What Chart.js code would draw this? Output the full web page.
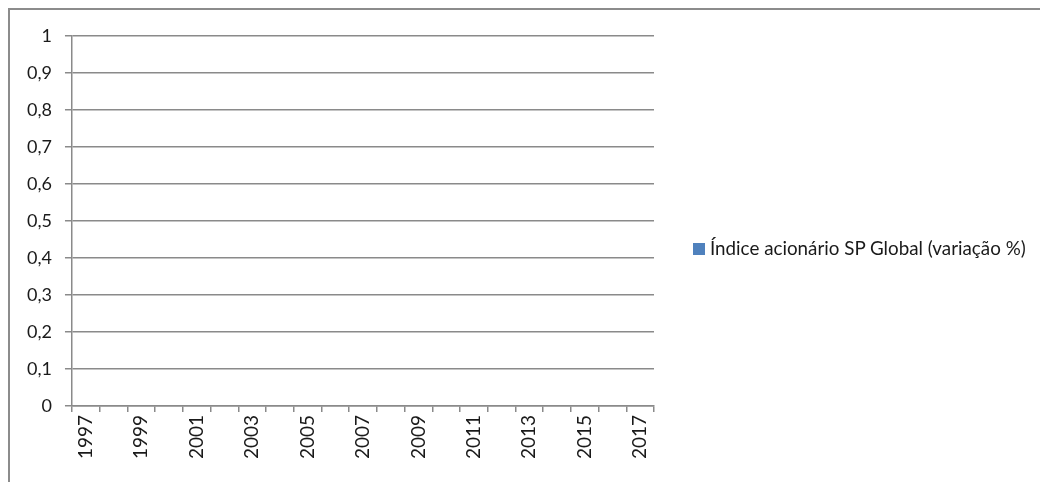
<!DOCTYPE html>
<html>
<head>
<meta charset="utf-8">
<script src="https://cdn.jsdelivr.net/npm/chart.js@4.4.1/dist/chart.umd.min.js"></script>
<style>
  html, body { margin: 0; padding: 0; background: #fff; }
  #frame {
    position: absolute; left: 8px; top: 8px; width: 1040px; height: 482px;
    border-top: 2px solid #8c8c8c; border-left: 2px solid #8c8c8c;
  }
  #wrap { position: absolute; left: 0; top: 0; width: 1040px; height: 482px; }
  #legend {
    position: absolute; left: 693px; top: 236px;
    font: 18.8px Lato, 'Open Sans', sans-serif; color: #1a1a1a; white-space: nowrap;
  }
  #legend .box {
    display: inline-block; width: 12px; height: 12px; margin-right: 5px;
    vertical-align: 0px;
  }
</style>
</head>
<body>
<div id="frame"></div>
<div id="wrap"><canvas id="chart"></canvas></div>
<div id="legend"></div>
<script>
// Excel chart with an empty series: only axes and legend are drawn
const years = ['1997', '1998', '1999', '2000', '2001', '2002', '2003', '2004', '2005', '2006', '2007',
  '2008', '2009', '2010', '2011', '2012', '2013', '2014', '2015', '2016', '2017'];
const indexValues = years.map(() => null); // no values plotted in the reference
const yMin = 0;
const yMax = 1;
const yStep = 0.1;

Chart.defaults.font.family = "Lato, 'Open Sans', sans-serif";
Chart.defaults.font.size = 18;
Chart.defaults.color = '#1a1a1a';

const gridGray = '#8a8a8a';

const chart = new Chart(document.getElementById('chart'), {
  type: 'bar',
  data: {
    labels: years,
    datasets: [{
      label: 'Índice acionário SP Global (variação %)',
      data: indexValues,
      backgroundColor: '#4f81bd',
      borderWidth: 0
    }]
  },
  options: {
    responsive: true,
    maintainAspectRatio: false,
    animation: false,
    layout: {
      padding: { left: 14, right: 386, top: 36, bottom: 20 }
    },
    plugins: {
      tooltip: { enabled: false },
      legend: { display: false } // drawn as html next to the plot
    },
    scales: {
      x: {
        offset: true,
        grid: {
          offset: true,
          drawOnChartArea: false,
          color: gridGray,
          lineWidth: 1.5,
          tickLength: 6
        },
        border: { color: gridGray, width: 1.5 },
        ticks: {
          autoSkip: false,
          minRotation: 90,
          maxRotation: 90,
          padding: 3,
          font: { size: 19 },
          callback: (val, i) => (i % 2 === 0 ? years[i] : '')
        }
      },
      y: {
        min: yMin,
        max: yMax,
        grid: {
          color: gridGray,
          lineWidth: 1.5,
          tickLength: 7
        },
        border: { color: gridGray, width: 1.5 },
        ticks: {
          stepSize: yStep,
          padding: 13,
          callback: v => String(Math.round(v * 10) / 10).replace('.', ',')
        }
      }
    }
  }
});

// html legend from the dataset
const legendEl = document.getElementById('legend');
chart.data.datasets.forEach(ds => {
  const item = document.createElement('div');
  const box = document.createElement('span');
  box.className = 'box';
  box.style.background = ds.backgroundColor;
  item.appendChild(box);
  item.appendChild(document.createTextNode(ds.label));
  legendEl.appendChild(item);
});
</script>
</body>
</html>
